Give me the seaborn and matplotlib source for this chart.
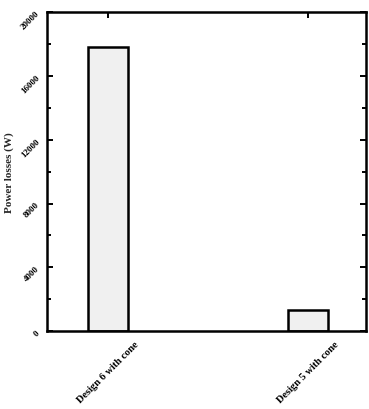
import pandas as pd
import seaborn as sns
import matplotlib.pyplot as plt
from matplotlib.ticker import MultipleLocator

# data
designs = ['Design 6 with cone', 'Design 5 with cone']
losses = [17800, 1350]

df = pd.DataFrame({'Design': designs, 'Power losses (W)': losses})

sns.set_style('ticks', {'axes.edgecolor': 'black', 'xtick.color': 'black', 'ytick.color': 'black'})
plt.rcParams['font.family'] = ['Liberation Serif', 'DejaVu Serif']
plt.rcParams['font.weight'] = 'bold'

fig, ax = plt.subplots(figsize=(3.69, 4.10), dpi=100)
fig.subplots_adjust(left=0.127, right=0.992, top=0.968, bottom=0.19)

sns.barplot(data=df, x='Design', y='Power losses (W)', ax=ax, width=0.2,
            color='#f0f0f0', edgecolor='black', linewidth=1.8, saturation=1)

ax.set_xlim(-0.305, 1.292)
ax.set_ylim(0, 20000)
ax.yaxis.set_major_locator(MultipleLocator(4000))
ax.yaxis.set_minor_locator(MultipleLocator(2000))
for s in ax.spines.values():
    s.set_visible(True)
    s.set_linewidth(1.8)
    s.set_color('black')
ax.tick_params(axis='both', which='both', direction='in', width=1.4,
               right=True, top=True, labelsize=6.5, colors='black')
ax.tick_params(axis='y', which='major', length=4, pad=4)
ax.tick_params(axis='y', which='minor', length=3)
ax.tick_params(axis='x', which='major', length=4, labelsize=7.5, pad=6)

for lab in ax.get_yticklabels():
    lab.set_rotation(45)
    lab.set_fontweight('bold')
for lab in ax.get_xticklabels():
    lab.set_rotation(45)
    lab.set_ha('center')
    lab.set_fontweight('bold')

ax.set_xlabel('')
ax.set_ylabel('Power losses (W)', fontsize=8, fontweight='bold', labelpad=4)

plt.savefig('out.png', dpi=100)
